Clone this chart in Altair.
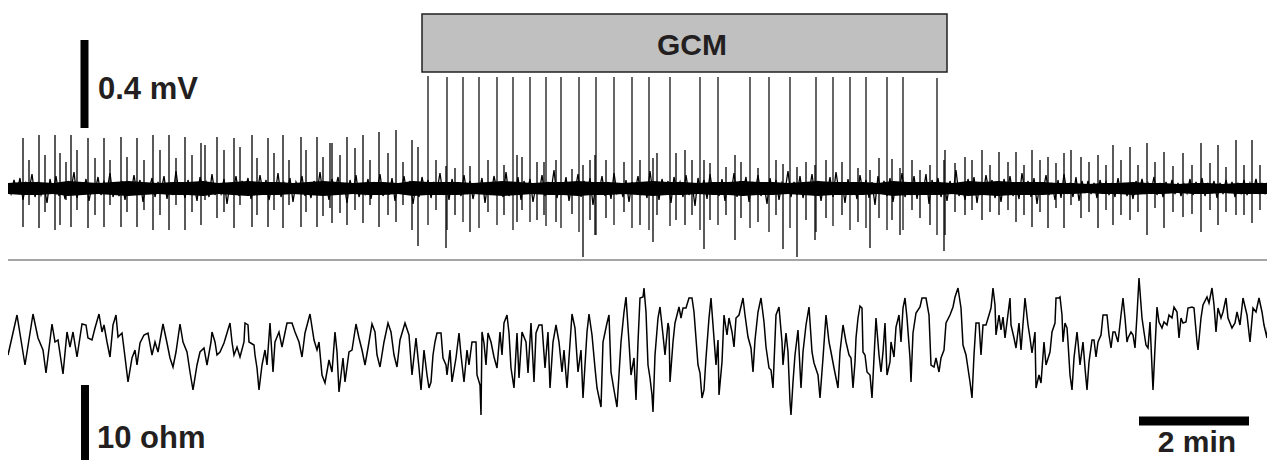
import altair as alt
import numpy as np
import pandas as pd

# ---------------------------------------------------------------------------
# Digitised readings of the source figure (digitiser units), converted below
# to minutes / mV / ohm with the calibration.
# ---------------------------------------------------------------------------

# Top trace (voltage): background noise, one reading every NOISE_STEP units
NOISE_STEP = 3
NOISE = [
    2, -6, 8, -4, 10, -12, 5, -3, 14, -9, 6, -7, 3, -15, 9, -5, 12, -8, 4, -11, 7, -2, 16, -10, 5, -6, 9, -13, 3, -4,
    11, -7, 6, -3, 15, -9, 2, -8, 7, -12, 4, -5, 13, -6, 8, -14, 3, -2, 10, -9, 6, -4, 12, -11, 5, -7, 17, -6, 3, -10,
    8, -5, 4, -13, 11, -3, 6, -9, 14, -7, 2, -6, 9, -16, 5, -4, 12, -8, 7, -3, 10, -11, 4, -6, 13, -5, 8, -12, 3, -7,
    15, -9, 5, -4, 10, -14, 6, -2, 12, -8, 3, -10, 7, -5, 16, -7, 4, -12, 9, -3, 11, -6, 5, -15, 8, -4, 13, -9, 2, -6,
    9, -11, 6, -3, 14, -8, 5, -7, 10, -13, 4, -5, 12, -6, 7, -16, 3, -9, 11, -4, 8, -10, 5, -3, 15, -7, 6, -12, 9, -5,
    4, -8, 13, -6, 7, -11, 3, -4, 10, -15, 6, -7, 12, -3, 5, -9, 16, -8, 4, -6, 11, -12, 7, -5, 9, -14, 3, -6, 13, -8,
    6, -4, 18, -10, 5, -7, 11, -13, 4, -3, 14, -9, 7, -6, 10, -17, 5, -4, 12, -8, 6, -11, 15, -5, 3, -9, 8, -14, 6, -4,
    12, -7, 5, -10, 17, -6, 4, -12, 9, -5, 7, -15, 11, -3, 6, -9, 13, -7, 5, -18, 10, -4, 8, -11, 14, -6, 3, -8, 9, -13,
    5, -6, 15, -9, 7, -4, 11, -14, 6, -5, 13, -8, 4, -16, 10, -6, 8, -12, 5, -3, 17, -9, 6, -7, 12, -10, 4, -5, 14, -8,
    7, -13, 5, -6, 11, -9, 16, -4, 6, -15, 9, -7, 4, -11, 13, -5, 8, -10, 6, -17, 12, -4, 7, -8, 10, -14, 5, -6, 15, -9,
    4, -7, 12, -11, 6, -5, 14, -16, 8, -4, 10, -9, 5, -13, 7, -6, 18, -8, 4, -12, 9, -5, 11, -15, 6, -7, 13, -4, 8, -10,
    5, -14, 9, -6, 12, -8, 4, -11, 15, -5, 7, -9, 10, -16, 6, -4, 13, -7, 5, -12, 8, -10, 14, -6, 4, -9, 11, -13, 7, -5,
    7, -6, 5, -10, 8, -4, 6, -7, 5, -9, 10, -6, 5, -8, 4, -11, 7, -5, 9, -6, 5, -4, 11, -7, 5, -9, 6, -5, 8, -6,
    5, -8, 4, -5, 9, -7, 6, -5, 10, -8, 4, -4, 7, -10, 5, -6, 8, -5, 6, -9, 4, -5, 8, -7, 5, -4, 9, -6, 4, -5,
    8, -10, 4,
]

# Top trace: dense core of the noise band (upper / lower edge), every ENV_STEP units
ENV_STEP = 15
ENV_HI = [5, 6, 6, 5, 7, 6, 5, 6, 7, 6, 5, 6, 6, 7, 5, 6, 7, 6, 6, 5,
          6, 7, 6, 5, 6, 6, 5, 7, 6, 6, 6, 5, 6, 7, 6, 5, 6, 6, 7, 6,
          6, 5, 6, 7, 6, 6, 5, 6, 6, 7, 6, 6, 5, 6, 7, 6, 6, 6, 5, 7,
          6, 6, 6, 5, 7, 6, 7, 6, 6, 6, 5, 5, 4, 5, 5, 6, 5, 5, 4, 5,
          5, 4, 5, 5, 5]
ENV_LO = [-6, -7, -7, -6, -8, -7, -6, -7, -8, -7, -6, -7, -7, -8, -6, -7, -8, -7, -7, -6,
          -7, -8, -7, -6, -7, -7, -6, -8, -7, -7, -7, -6, -7, -8, -7, -6, -7, -7, -8, -7,
          -7, -6, -7, -8, -7, -7, -6, -7, -7, -8, -7, -7, -6, -7, -8, -7, -7, -7, -6, -8,
          -7, -7, -7, -6, -8, -7, -8, -7, -7, -7, -6, -6, -5, -6, -6, -7, -6, -6, -5, -6,
          -6, -5, -6, -6, -6]

# Top trace: regular spikes (time, top, bottom readings)
REG_SPIKE_X = [23, 39, 55, 71, 88, 104, 121, 137, 153, 169, 185, 201, 217, 234, 252, 268, 283, 301, 317, 332,
               347, 363, 379, 396, 412,
               945, 982, 999, 1016, 1032, 1048, 1064, 1071, 1081, 1098, 1113, 1130, 1147, 1164, 1183, 1201, 1218,
               1236, 1252, 1269]
REG_SPIKE_TOP = [138, 135, 135, 135, 138, 138, 137, 138, 135, 135, 137, 143, 137, 138, 135, 138, 135, 137, 137, 143,
                 137, 135, 132, 130, 140,
                 150, 150, 152, 152, 150, 157, 153, 150, 157, 155, 145, 147, 143, 152, 153, 143, 145, 140, 140, 138]
REG_SPIKE_BOT = [227, 228, 230, 227, 228, 227, 227, 227, 230, 230, 230, 225, 218, 228, 227, 227, 228, 227, 227, 223,
                 225, 223, 227, 222, 230,
                 235, 220, 215, 222, 227, 228, 228, 205, 218, 228, 225, 220, 235, 228, 217, 232, 225, 215, 223, 228]

# Top trace: smaller spikes between the regular ones
MID_X = [29, 45, 60, 66, 77, 95, 110, 127, 144, 160, 176, 192, 205, 224, 240, 257, 274, 289, 306, 323,
         330, 340, 355, 370, 388, 403, 418,
         436, 446, 455, 470, 488, 504, 517, 522, 537, 544, 556, 572, 583, 590, 595, 606, 624, 640, 653, 657,
         676, 685, 692, 704, 710, 726, 735, 741, 758, 776, 783, 797, 806, 815, 826, 842, 858, 870, 879, 892,
         900, 912, 920, 930, 944,
         955, 965, 972, 990, 1008, 1024, 1040, 1056, 1089, 1106, 1121, 1138, 1155, 1173, 1192, 1210, 1226, 1244, 1260]
MID_TOP = [160, 155, 153, 162, 150, 158, 160, 157, 160, 150, 158, 155, 145, 150, 147, 158, 153, 160, 150, 157,
           143, 155, 148, 160, 153, 162, 147,
           160, 166, 168, 166, 160, 165, 155, 157, 162, 162, 160, 169, 165, 160, 155, 160, 162, 160, 158, 153,
           153, 150, 160, 160, 163, 167, 155, 162, 168, 160, 164, 167, 162, 165, 160, 162, 168, 170, 158, 159,
           168, 160, 170, 165, 160,
           163, 157, 160, 165, 162, 165, 160, 163, 162, 165, 160, 165, 162, 166, 165, 163, 167, 165, 165]
MID_BOT = [205, 212, 225, 200, 210, 215, 205, 212, 210, 215, 205, 212, 200, 212, 205, 215, 210, 205, 212, 216,
           208, 213, 210, 205, 215, 205, 246,
           210, 248, 215, 232, 212, 215, 222, 210, 220, 215, 222, 214, 257, 220, 235, 218, 212, 225, 242, 215,
           220, 225, 215, 249, 220, 215, 240, 218, 222, 215, 249, 257, 220, 240, 218, 215, 222, 248, 218, 220,
           235, 210, 218, 225, 251,
           212, 215, 210, 212, 210, 215, 212, 208, 212, 210, 215, 212, 208, 212, 214, 210, 212, 215, 210]

# Top trace: large spikes during GCM application
GCM_X = [428, 447, 463, 479, 497, 513, 530, 546, 561, 579, 596, 614, 632, 649, 670, 700, 718, 750, 769, 790,
         816, 833, 850, 866, 887, 903, 937]
GCM_TOP = [76, 77, 77, 77, 77, 77, 77, 77, 77, 77, 77, 77, 77, 77, 77, 77, 77, 77, 77, 77,
           77, 77, 77, 77, 77, 77, 78]
GCM_BOT = [225, 230, 222, 228, 225, 230, 222, 226, 228, 232, 235, 225, 228, 230, 226, 230, 225, 228, 232, 228,
           232, 226, 230, 228, 230, 230, 235]

# Bottom trace (impedance): (time, value) readings, in six stretches
IMP_A = [(8, 355), (17, 315), (25, 365), (33, 314), (38, 338), (43, 350), (46, 373), (52, 324), (55, 342), (58, 340),
         (63, 374), (67, 332), (70, 347), (73, 332), (77, 357), (82, 324), (86, 325), (88, 338), (92, 340), (95, 328),
         (99, 314), (102, 332), (104, 325), (107, 342), (110, 357), (113, 325), (116, 315), (118, 337), (122, 333),
         (125, 357), (128, 382), (132, 358), (135, 350), (137, 365), (140, 343), (144, 335), (148, 333), (152, 355),
         (155, 342), (158, 352), (163, 324), (167, 343), (170, 358), (173, 367), (176, 352), (180, 324), (183, 342),
         (187, 352), (190, 372), (193, 390), (197, 365), (200, 352), (204, 348), (207, 365), (211, 342)]
IMP_B = [(212, 332), (215, 342), (217, 355), (220, 352), (224, 343), (227, 333), (230, 323), (232, 342), (234, 355),
         (237, 347), (240, 357), (244, 342), (245, 323), (248, 325), (249, 342), (254, 345), (255, 355), (257, 368),
         (259, 390), (262, 365), (265, 350), (267, 365), (270, 323), (273, 372), (275, 342), (279, 332), (282, 347),
         (287, 323), (292, 323), (295, 332), (299, 342), (302, 357), (305, 333), (310, 314), (314, 340), (317, 350),
         (319, 342), (322, 375), (325, 383), (329, 360), (332, 372), (335, 332), (337, 352), (339, 392), (343, 358),
         (345, 382), (349, 352), (352, 350), (356, 324), (359, 338), (362, 350), (365, 365), (368, 348), (372, 324),
         (375, 332), (377, 355), (380, 367), (384, 342), (388, 323), (391, 332), (394, 355), (397, 367), (400, 340),
         (405, 323), (409, 335), (412, 375), (416, 338), (419, 368), (421, 390)]
IMP_C = [(424, 350), (427, 375), (429, 388), (431, 382), (433, 355), (435, 342), (437, 333), (441, 333), (443, 358),
         (446, 365), (447, 375), (450, 350), (452, 382), (456, 358), (459, 333), (461, 355), (464, 382), (467, 350),
         (469, 365), (472, 342), (476, 342), (477, 375), (480, 385), (481, 415), (482, 332), (484, 343), (486, 365),
         (488, 333), (491, 342), (494, 357), (497, 368), (500, 332), (502, 355), (504, 323), (507, 315), (509, 333),
         (511, 368), (514, 388), (517, 333), (519, 378), (522, 332), (526, 342), (528, 373), (531, 323), (534, 382),
         (536, 333), (539, 325), (542, 325), (545, 368), (548, 332), (550, 388), (553, 342), (556, 325), (559, 342),
         (562, 372), (564, 350), (567, 388), (569, 358), (572, 314), (575, 328), (578, 372), (581, 350), (583, 398),
         (587, 332), (589, 314), (592, 335), (595, 368), (597, 388), (601, 407), (603, 342), (607, 323), (609, 315),
         (611, 372), (614, 390), (617, 407), (621, 342), (624, 312), (626, 297), (629, 342), (631, 375), (634, 358),
         (636, 400)]
IMP_D = [(638, 342), (640, 298), (643, 297), (644, 288), (646, 312), (648, 365), (650, 378), (652, 395), (653, 412),
         (655, 355), (658, 318), (660, 307), (663, 335), (665, 355), (668, 323), (669, 328), (670, 382), (673, 342),
         (675, 323), (679, 307), (681, 318), (683, 308), (686, 308), (689, 298), (692, 298), (694, 312), (698, 365),
         (700, 373), (702, 398), (704, 390), (706, 358), (709, 318), (711, 298), (713, 325), (716, 365), (718, 340),
         (719, 395), (722, 362), (724, 315), (727, 335), (729, 318), (732, 332), (734, 347), (736, 318), (739, 315),
         (743, 298), (745, 315), (748, 337), (751, 348), (753, 372), (755, 340), (758, 312), (761, 298), (764, 322),
         (766, 347), (769, 368), (771, 370), (773, 388), (776, 315), (779, 307), (782, 342), (783, 365), (786, 333),
         (788, 352), (790, 402), (791, 415), (793, 382), (795, 355), (798, 330), (801, 388), (803, 352), (806, 325),
         (809, 307), (812, 352), (814, 363), (818, 375), (820, 398), (823, 358), (826, 315), (829, 342), (831, 352),
         (834, 368), (838, 388), (840, 352), (843, 325), (846, 342), (849, 355)]
IMP_E = [(851, 358), (853, 388), (855, 362), (856, 338), (858, 318), (860, 306), (862, 308), (863, 352), (865, 355),
         (867, 372), (870, 375), (872, 398), (874, 358), (876, 318), (879, 355), (881, 372), (883, 352), (885, 323),
         (887, 375), (890, 362), (891, 342), (894, 357), (896, 327), (899, 315), (901, 342), (903, 308), (905, 298),
         (907, 318), (910, 358), (911, 382), (913, 333), (916, 313), (920, 307), (922, 298), (926, 298), (929, 315),
         (931, 365), (934, 367), (936, 358), (939, 372), (941, 358), (944, 350), (946, 323), (950, 315), (953, 307),
         (955, 297), (958, 288), (961, 308), (963, 345), (966, 355), (970, 382), (972, 398), (974, 355), (976, 323),
         (979, 323), (981, 355), (983, 325), (986, 325), (989, 315), (991, 308), (993, 288), (995, 305), (996, 335),
         (999, 315), (1001, 330), (1003, 317), (1005, 338), (1007, 322), (1010, 298), (1011, 325), (1014, 338),
         (1016, 348), (1019, 323), (1021, 350), (1025, 298), (1028, 325), (1030, 338), (1032, 353), (1035, 332),
         (1036, 388), (1039, 375), (1041, 383), (1044, 342), (1046, 365), (1050, 352), (1052, 332), (1055, 323),
         (1056, 298), (1059, 298)]
IMP_F = [(1060, 297), (1062, 315), (1063, 342), (1065, 323), (1067, 328), (1068, 342), (1070, 375), (1072, 390),
         (1074, 358), (1077, 332), (1078, 342), (1080, 365), (1083, 342), (1085, 368), (1087, 390), (1089, 362),
         (1092, 340), (1094, 340), (1096, 357), (1098, 342), (1101, 335), (1103, 315), (1107, 315), (1109, 335),
         (1111, 348), (1113, 332), (1115, 332), (1118, 342), (1121, 315), (1123, 298), (1125, 318), (1127, 342),
         (1128, 338), (1131, 332), (1133, 335), (1135, 348), (1137, 315), (1139, 278), (1142, 318), (1144, 332),
         (1146, 345), (1148, 348), (1150, 322), (1153, 390), (1155, 348), (1157, 307), (1159, 322), (1162, 328),
         (1164, 322), (1167, 325), (1169, 315), (1172, 318), (1174, 307), (1177, 312), (1179, 338), (1181, 318),
         (1183, 323), (1186, 322), (1188, 308), (1192, 307), (1194, 308), (1197, 342), (1198, 350), (1201, 318),
         (1203, 305), (1207, 297), (1209, 303), (1212, 288), (1214, 305), (1216, 332), (1218, 308), (1221, 318),
         (1223, 312), (1226, 298), (1228, 318), (1232, 328), (1235, 323), (1237, 312), (1240, 325), (1243, 298),
         (1247, 315), (1250, 342), (1253, 308), (1256, 312), (1259, 298), (1262, 312), (1264, 325), (1267, 338),
         (1269, 308), (1272, 317), (1275, 295)]

# ---------------------------------------------------------------------------
# Calibration (from the scale bars: 2 min, 0.4 mV, 10 ohm)
# ---------------------------------------------------------------------------
T0, U_PER_MIN = 8.0, 55.0
MV_ZERO, U_PER_MV = 188.0, 220.0
OHM_ZERO, U_PER_OHM = 345.0, 8.3


def to_min(v):
    return (np.asarray(v, dtype=float) - T0) / U_PER_MIN


def to_mv(v):
    return (MV_ZERO - np.asarray(v, dtype=float)) / U_PER_MV


def to_ohm(v):
    return (OHM_ZERO - np.asarray(v, dtype=float)) / U_PER_OHM


W, H = 1259, 452
FONT = "Liberation Sans"
INK = "#231f20"

x_scale = alt.Scale(domain=[0, W / U_PER_MIN], nice=False, zero=False)
mv_scale = alt.Scale(domain=[float(to_mv(H + 8)), float(to_mv(8))], nice=False, zero=False)
ohm_scale = alt.Scale(domain=[float(to_ohm(H + 8)), float(to_ohm(8))], nice=False, zero=False)

X = alt.X("t:Q", scale=x_scale, axis=None)
YMV = alt.Y("v:Q", scale=mv_scale, axis=None)
YOHM = alt.Y("v:Q", scale=ohm_scale, axis=None)

# ---------------- top panel (mV) ----------------
n_env = min(len(ENV_HI), len(ENV_LO))
env_df = pd.DataFrame({
    "t": np.arange(n_env) * ENV_STEP / U_PER_MIN,
    "v": np.asarray(ENV_HI[:n_env], dtype=float) / U_PER_MV,
    "v2": np.asarray(ENV_LO[:n_env], dtype=float) / U_PER_MV,
})
env = alt.Chart(env_df).mark_area(color="#000", clip=True).encode(x=X, y=YMV, y2="v2:Q")

noise_df = pd.DataFrame({
    "t": np.arange(len(NOISE)) * NOISE_STEP / U_PER_MIN,
    "v": np.asarray(NOISE, dtype=float) / U_PER_MV,
})
noise = alt.Chart(noise_df).mark_line(color="#000", strokeWidth=1.3, clip=True).encode(x=X, y=YMV)


def spikes_df(xs, tops, bots):
    n = min(len(xs), len(tops), len(bots))
    return pd.DataFrame({"t": to_min(xs[:n]), "v": to_mv(tops[:n]), "v2": to_mv(bots[:n])})


reg = alt.Chart(spikes_df(REG_SPIKE_X, REG_SPIKE_TOP, REG_SPIKE_BOT)).mark_rule(
    color="#000", strokeWidth=1.3, clip=True).encode(x=X, y=YMV, y2="v2:Q")
mid = alt.Chart(spikes_df(MID_X, MID_TOP, MID_BOT)).mark_rule(
    color="#000", strokeWidth=1.3, clip=True).encode(x=X, y=YMV, y2="v2:Q")
gcm_sp = alt.Chart(spikes_df(GCM_X, GCM_TOP, GCM_BOT)).mark_rule(
    color="#000", strokeWidth=1.2, clip=True).encode(x=X, y=YMV, y2="v2:Q")

# GCM application bar
gcm_df = pd.DataFrame({"t": [float(to_min(422))], "t2": [float(to_min(947))],
                       "v": [float(to_mv(72))], "v2": [float(to_mv(14))]})
gcm_box = alt.Chart(gcm_df).mark_rect(fill="#c0c0c0", stroke=INK, strokeWidth=1.5).encode(
    x=X, x2="t2:Q", y=YMV, y2="v2:Q")
gcm_lbl = alt.Chart(pd.DataFrame({"t": [float(to_min(692))], "v": [float(to_mv(55))], "s": ["GCM"]})).mark_text(
    font=FONT, fontWeight="bold", fontSize=30, color=INK, align="center", baseline="alphabetic").encode(
    x=X, y=YMV, text="s:N")

# 0.4 mV scale bar
mvbar_df = pd.DataFrame({"t": [float(to_min(84.5))], "v": [0.2727], "v2": [0.2727 + 0.4]})
mvbar = alt.Chart(mvbar_df).mark_rule(color="#000", strokeWidth=8).encode(x=X, y=YMV, y2="v2:Q")
mvlbl = alt.Chart(pd.DataFrame({"t": [float(to_min(98))], "v": [float(to_mv(99))], "s": ["0.4 mV"]})).mark_text(
    font=FONT, fontWeight="bold", fontSize=31, color=INK, align="left", baseline="alphabetic").encode(
    x=X, y=YMV, text="s:N")

# separator between the two records
sep_df = pd.DataFrame({"t": [0.0], "t2": [float(to_min(1275))], "v": [float(to_mv(260))]})
sep = alt.Chart(sep_df).mark_rule(color="#a6a6a6", strokeWidth=2).encode(x=X, x2="t2:Q", y=YMV)

top = alt.layer(sep, env, noise, mid, reg, gcm_sp, gcm_box, gcm_lbl, mvbar, mvlbl)

# ---------------- bottom panel (ohm) ----------------
pts = IMP_A + IMP_B + IMP_C + IMP_D + IMP_E + IMP_F
imp_df = pd.DataFrame({
    "i": np.arange(len(pts)),
    "t": to_min([p[0] for p in pts]),
    "v": to_ohm([p[1] for p in pts]),
})
imp = alt.Chart(imp_df).mark_line(color="#000", strokeWidth=1.5, clip=True).encode(
    x=X, y=YOHM, order="i:Q")

ohmbar_df = pd.DataFrame({"t": [float(to_min(85))], "v": [float(to_ohm(468))], "v2": [float(to_ohm(468)) + 10]})
ohmbar = alt.Chart(ohmbar_df).mark_rule(color="#000", strokeWidth=8).encode(x=X, y=YOHM, y2="v2:Q")
ohmlbl = alt.Chart(pd.DataFrame({"t": [float(to_min(97))], "v": [float(to_ohm(448))], "s": ["10 ohm"]})).mark_text(
    font=FONT, fontWeight="bold", fontSize=31, color=INK, align="left", baseline="alphabetic").encode(
    x=X, y=YOHM, text="s:N")

minbar_df = pd.DataFrame({"t": [float(to_min(1139))], "t2": [float(to_min(1139)) + 2.0], "v": [float(to_ohm(421))]})
minbar = alt.Chart(minbar_df).mark_rule(color="#000", strokeWidth=9).encode(x=X, x2="t2:Q", y=YOHM)
minlbl = alt.Chart(pd.DataFrame({"t": [float(to_min(1197))], "v": [float(to_ohm(452))], "s": ["2 min"]})).mark_text(
    font=FONT, fontWeight="bold", fontSize=30, color=INK, align="center", baseline="alphabetic").encode(
    x=X, y=YOHM, text="s:N")

bottom = alt.layer(imp, ohmbar, ohmlbl, minbar, minlbl)

chart = alt.layer(top, bottom).resolve_scale(y="independent").properties(
    width=W, height=H, padding=0, autosize=alt.AutoSizeParams(type="none"),
    background="white",
).configure_view(stroke=None)

chart.save("out.html", embed_options={"renderer": "svg", "actions": False})
